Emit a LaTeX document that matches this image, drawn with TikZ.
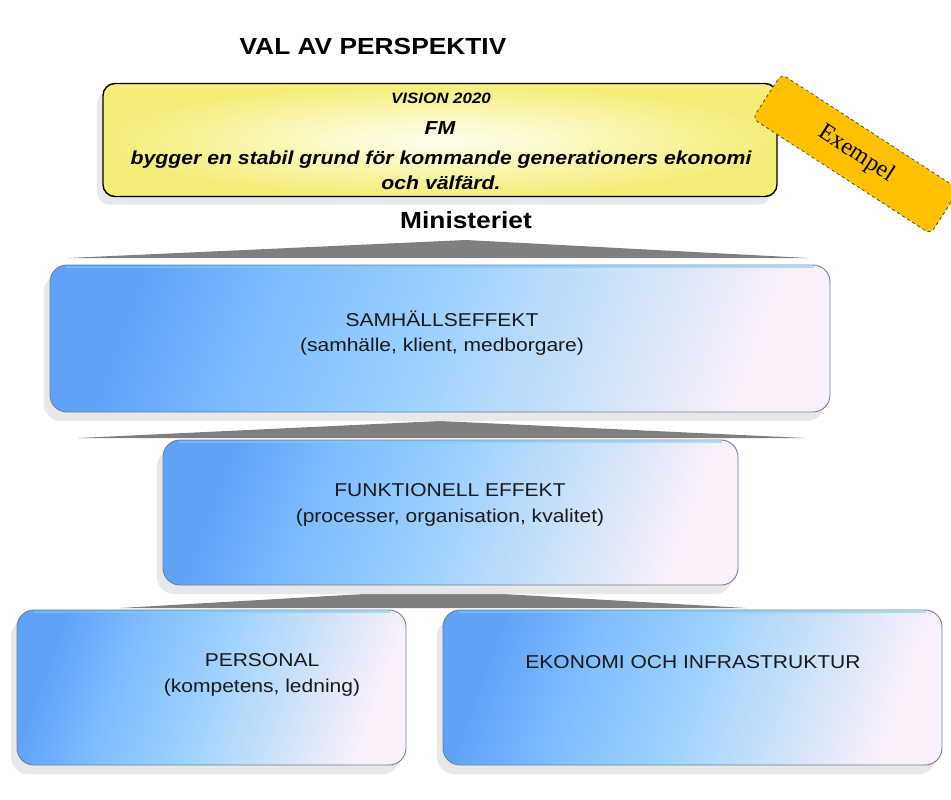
\documentclass[tikz,border=0pt]{standalone}
\usepackage{fontspec}
\setmainfont{Liberation Sans}[FakeStretch=1.13]
\newfontfamily\exfont{Liberation Serif}
\usetikzlibrary{shadows,positioning}

\definecolor{roofgray}{HTML}{7F7F7F}
\definecolor{bluedark}{HTML}{5FA3F8}
\definecolor{bluesky}{HTML}{82C0FF}
\definecolor{bluemid}{HTML}{9ED2FF}
\definecolor{bluepale}{HTML}{CFE3F8}
\definecolor{bluelight}{HTML}{FAF0FA}
\definecolor{boxedge}{HTML}{6F7F9A}
\definecolor{visionyel}{HTML}{F3EE78}
\definecolor{tagorange}{HTML}{FFC000}

\pgfdeclarehorizontalshading{levelshade}{100bp}{color(0bp)=(bluedark); color(25bp)=(bluedark);
  color(38bp)=(bluesky); color(50bp)=(bluemid); color(63bp)=(bluepale); color(75bp)=(bluelight);
  color(100bp)=(bluelight)}

\tikzset{
  levelbox/.style={draw=boxedge, line width=0.9pt, rounded corners=17pt,
    shading=levelshade, shading angle=-20,
    drop shadow={shadow xshift=-6pt, shadow yshift=-9pt, fill=black!9, opacity=1}},
  leveltxt/.style={align=center, font=\fontsize{18.6}{25.5}\selectfont, text=black!90},
  visiontxt/.style={font=\bfseries\itshape\fontsize{18.8}{25}\selectfont},
  glans/.style={white!45!cyan, line width=2pt, opacity=0.6},
  roof/.style={fill=roofgray, draw=none},
}

\begin{document}
\begin{tikzpicture}[x=1pt,y=-1pt]
  \useasboundingbox (0,0) rectangle (951,800);

  % Titel
  \node[font=\bfseries\fontsize{23.3}{28}\selectfont] (titel) at (373,46) {VAL AV PERSPEKTIV};

  % Vision
  \node[draw=black, line width=1.4pt, rounded corners=12pt,
        inner color=yellow!6!white, outer color=visionyel,
        minimum width=674pt, minimum height=113pt,
        drop shadow={shadow xshift=-6pt, shadow yshift=-8pt, fill=black!9, opacity=1}]
        (vision) at (440,140) {};
  \node[visiontxt, font=\bfseries\itshape\fontsize{15}{18}\selectfont] (visionar) at (441,98) {VISION 2020};
  \node[visiontxt] (fm) at (440,128) {FM};
  \node[visiontxt, align=center] (grund) at (441,170) {bygger en stabil grund för kommande generationers ekonomi\\och välfärd.};

  % Exempel
  \node[draw=black!70, dashed, line width=0.8pt, fill=tagorange, rounded corners=6pt,
        rotate=-33, minimum width=212pt, minimum height=53pt,
        font=\exfont\fontsize{24}{28}\selectfont] (exempel) at (856,154) {Exempel};

  \node[font=\bfseries\fontsize{23.3}{28}\selectfont] (ministeriet) at (466,220) {Ministeriet};

  % Tak
  \fill[roof] (68,258) -- (466,240) -- (808,258) -- cycle;
  \fill[roof] (78,438) -- (440,421) -- (805,438) -- cycle;
  \fill[roof] (120,608) -- (434,590) -- (746,608) -- cycle;

  % Nivaer
  \node[levelbox, minimum width=780pt, minimum height=147pt] (samhalle) at (440,338.5) {};
  \node[levelbox, minimum width=575pt, minimum height=145pt] (funktion) at (450.5,512.5) {};
  \node[levelbox, minimum width=389pt, minimum height=155pt] (personal) at (211.5,687.5) {};
  \node[levelbox, minimum width=499pt, minimum height=155pt] (ekonomi) at (692.5,687.5) {};

  \draw[glans] ([xshift=16pt,yshift=-2pt]samhalle.north west) -- ([xshift=-16pt,yshift=-2pt]samhalle.north east);
  \draw[glans] ([xshift=16pt,yshift=-2pt]funktion.north west) -- ([xshift=-16pt,yshift=-2pt]funktion.north east);
  \draw[glans] ([xshift=16pt,yshift=-2pt]personal.north west) -- ([xshift=-16pt,yshift=-2pt]personal.north east);
  \draw[glans] ([xshift=16pt,yshift=-2pt]ekonomi.north west) -- ([xshift=-16pt,yshift=-2pt]ekonomi.north east);

  \node[leveltxt] (samhalletxt) at (442,333) {SAMHÄLLSEFFEKT\\(samhälle, klient, medborgare)};
  \node[leveltxt] (funktiontxt) at (450,505) {FUNKTIONELL EFFEKT\\(processer, organisation, kvalitet)};
  \node[leveltxt] (personaltxt) at (262,675) {PERSONAL\\(kompetens, ledning)};
  \node[leveltxt] (ekonomitxt) at (693,662) {EKONOMI OCH INFRASTRUKTUR};
\end{tikzpicture}
\end{document}
